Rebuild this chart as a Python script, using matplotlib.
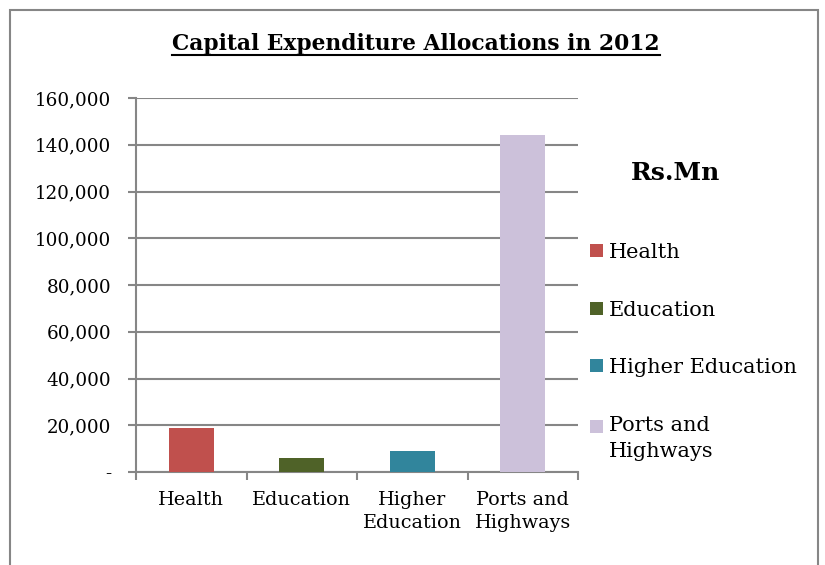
import matplotlib
matplotlib.use("Agg")
import matplotlib.pyplot as plt
from matplotlib.patches import Rectangle
from matplotlib.ticker import FuncFormatter
from matplotlib.legend_handler import HandlerPatch

categories = ["Health", "Education", "Higher\nEducation", "Ports and\nHighways"]
legend_labels = ["Health", "Education", "Higher Education", "Ports and\nHighways"]
values = [19000, 5800, 8800, 144000]
colors = ["#C0504D", "#4F6228", "#31859C", "#CCC1DA"]
yticks = [0, 20000, 40000, 60000, 80000, 100000, 120000, 140000, 160000]

plt.rcParams['font.family'] = ['DejaVu Serif']
W, H = 825, 565
fig = plt.figure(figsize=(W/100, H/100), dpi=100)

# outer border (open at the bottom, cropped)
fig.patches.append(Rectangle((10/W, -0.05), (818-10)/W, (H-10)/H + 0.05,
                             transform=fig.transFigure, fill=False,
                             edgecolor="#868686", linewidth=1.5))

x0, x1 = 136, 578
yb, yt = 472, 98
ax = fig.add_axes([x0/W, 1 - yb/H, (x1-x0)/W, (yb-yt)/H])

xs = range(len(values))
bars = ax.bar(xs, values, width=0.41, color=colors, zorder=3)
ax.set_xlim(-0.5, len(values) - 0.5)
ax.set_ylim(0, 160000)
ax.set_yticks(yticks)
ax.yaxis.set_major_formatter(FuncFormatter(lambda v, p: "-" if v == 0 else f"{int(v):,}"))
ax.grid(axis="y", color="#868686", linewidth=1.5, zorder=0)
ax.set_xticks([i + 0.5 for i in range(-1, len(values))], minor=False)
ax.set_xticklabels([])
ax.set_xticks(list(xs), minor=True)
ax.set_xticklabels(categories, minor=True, fontsize=13.8, linespacing=1.35)
ax.tick_params(axis="x", which="minor", length=0, pad=14)
ax.tick_params(axis="x", which="major", length=6, width=1.5, color="#868686", direction="out")
ax.tick_params(axis="y", length=6, width=1.5, color="#868686", labelsize=13.2, pad=12)
for s in ["top", "right"]:
    ax.spines[s].set_visible(False)
for s in ["left", "bottom"]:
    ax.spines[s].set_color("#868686")
    ax.spines[s].set_linewidth(1.5)

fig.text(416/W, 1 - 44/H, "Capital Expenditure Allocations in 2012",
         ha="center", va="center", fontsize=15.7, fontweight="bold")
fig.add_artist(plt.Line2D([172/W, 660/W], [1 - 55/H, 1 - 55/H], color="black", linewidth=1.5))

fig.text(676/W, 1 - 173/H, "Rs.Mn", ha="center", va="center",
         fontsize=18, fontweight="bold")

def top_aligned(legend, orig_handle, xdescent, ydescent, width, height, fontsize):
    return Rectangle((-xdescent, -ydescent + 8.5), width, height)

handles = list(bars.patches)
leg = ax.legend(handles, legend_labels, loc="upper left",
                bbox_to_anchor=(590/W, 1 - 243/H), bbox_transform=fig.transFigure,
                frameon=False, fontsize=15, labelspacing=1.85,
                handlelength=0.6, handleheight=0.6, handletextpad=0.3,
                borderaxespad=0, borderpad=0,
                handler_map={handles[3]: HandlerPatch(patch_func=top_aligned)})
for t in leg.get_texts():
    t.set_linespacing(1.5)

fig.savefig("out.png", dpi=100)
